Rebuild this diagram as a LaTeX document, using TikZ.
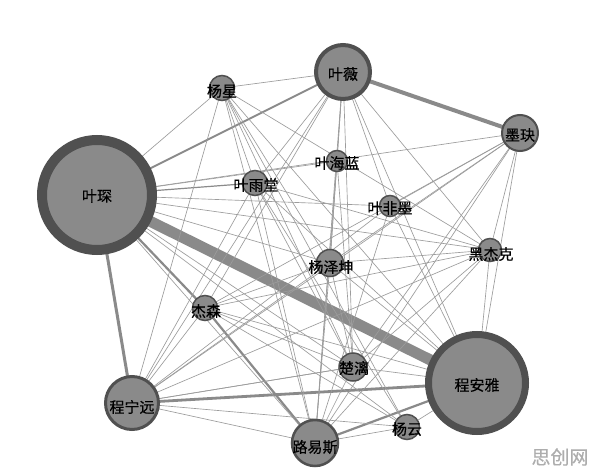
\documentclass[tikz,border=0pt]{standalone}
\usepackage{fontspec}
\setmainfont[FakeBold=0.4,AutoFakeBold=0.4]{Noto Sans CJK SC}
\usetikzlibrary{backgrounds}
\definecolor{nfill}{HTML}{8A8A8A}
\definecolor{nring}{HTML}{505050}
\definecolor{ecol}{HTML}{9C9C9C}
\definecolor{ecolm}{HTML}{8A8A8A}
\tikzset{
  nd/.style={circle, draw=nring, fill=nfill, inner sep=0pt},
  lb/.style={inner sep=0pt, text=black, font=\fontsize{15}{15}\selectfont\bfseries},
  e/.style={draw=ecol, line width=0.65pt},
  em/.style={draw=ecolm, line width=2.2pt},
}
\begin{document}
\begin{tikzpicture}[x=1pt,y=-1pt]
\begin{scope}[on background layer]
\fill[white] (0,0) rectangle (596,473);
\end{scope}
\useasboundingbox (0,0) rectangle (596,473);
% nodes
\node[nd, minimum size=110pt, line width=10pt] (A) at (97,195) {};
\node[nd, minimum size=54pt, line width=4pt] (B) at (343,72) {};
\node[nd, minimum size=25pt, line width=1.5pt] (C) at (222,88) {};
\node[nd, minimum size=36pt, line width=2pt] (D) at (520,133) {};
\node[nd, minimum size=21pt, line width=1.5pt] (E) at (337,161) {};
\node[nd, minimum size=25pt, line width=1.5pt] (F) at (255,183) {};
\node[nd, minimum size=21pt, line width=1.5pt] (G) at (390,206) {};
\node[nd, minimum size=27pt, line width=1.5pt] (H) at (330,263) {};
\node[nd, minimum size=23pt, line width=1.5pt] (I) at (490,250) {};
\node[nd, minimum size=25pt, line width=1.5pt] (J) at (205,308) {};
\node[nd, minimum size=28pt, line width=1.5pt] (K) at (353,367) {};
\node[nd, minimum size=97pt, line width=7pt] (L) at (477,383) {};
\node[nd, minimum size=53pt, line width=3pt] (M) at (132,403) {};
\node[nd, minimum size=46pt, line width=2.5pt] (N) at (315,443) {};
\node[nd, minimum size=25pt, line width=1.5pt] (O) at (407,427) {};
% labels
\node[lb] (tA) at (97,196) {叶琛};
\node[lb] (tB) at (343,74) {叶薇};
\node[lb] (tC) at (222,91) {杨星};
\node[lb] (tD) at (520,135) {墨玦};
\node[lb] (tE) at (337,163) {叶海蓝};
\node[lb] (tF) at (256,185) {叶雨堂};
\node[lb] (tG) at (390,208) {叶非墨};
\node[lb] (tH) at (331,267) {杨泽坤};
\node[lb] (tI) at (491,254) {黑杰克};
\node[lb] (tJ) at (206,311) {杰森};
\node[lb] (tK) at (354,368) {楚漓};
\node[lb] (tL) at (477,385) {程安雅};
\node[lb] (tM) at (132,407) {程宁远};
\node[lb] (tN) at (315,447) {路易斯};
\node[lb] (tO) at (407,429) {杨云};
\node[text=black!32, font=\fontsize{19}{19}\selectfont\bfseries] (W) at (560,457) {思创网};
% edges
\begin{scope}[on background layer]
\draw[draw=ecolm, line width=11pt] (A.center) -- (L.center);
\draw[draw=ecolm, line width=4pt] (B.center) -- (D.center);
\draw[em, line width=3pt] (A.center) -- (M.center);
\draw[em] (A.center) -- (J.center);
\draw[em] (J.center) -- (N.center);
\draw[em, line width=2.8pt] (M.center) -- (L.center);
\draw[em] (N.center) -- (L.center);
\draw[em, line width=1.8pt] (A.center) -- (B.center);
\draw[em, line width=1.2pt] (A.center) -- (F.center);
\foreach \a/\b in {A/C, A/G, A/I, A/H, A/K, A/O, A/N, A/D, A/E,
  C/B, C/M, C/H, C/K, C/N, C/O, C/L, C/I, C/F,
  B/E, B/F, B/H, B/K, B/N, B/M, B/J, B/G, B/I, B/L,
  D/G, D/I, D/L, D/K, D/N, D/J, D/M, D/H,
  E/K, E/N, E/H,
  F/L, F/K, F/N, F/O, F/M, F/I,
  G/N, G/M, G/L,
  H/I, H/M, H/N, H/L, H/J, H/K,
  I/J, I/M, I/K, I/N, I/L,
  J/L, J/M, J/K, J/O,
  K/L, K/M, K/N,
  M/N, M/O, M/K,
  N/O, O/L}
  \draw[e] (\a.center) -- (\b.center);
\end{scope}
\end{tikzpicture}
\end{document}
